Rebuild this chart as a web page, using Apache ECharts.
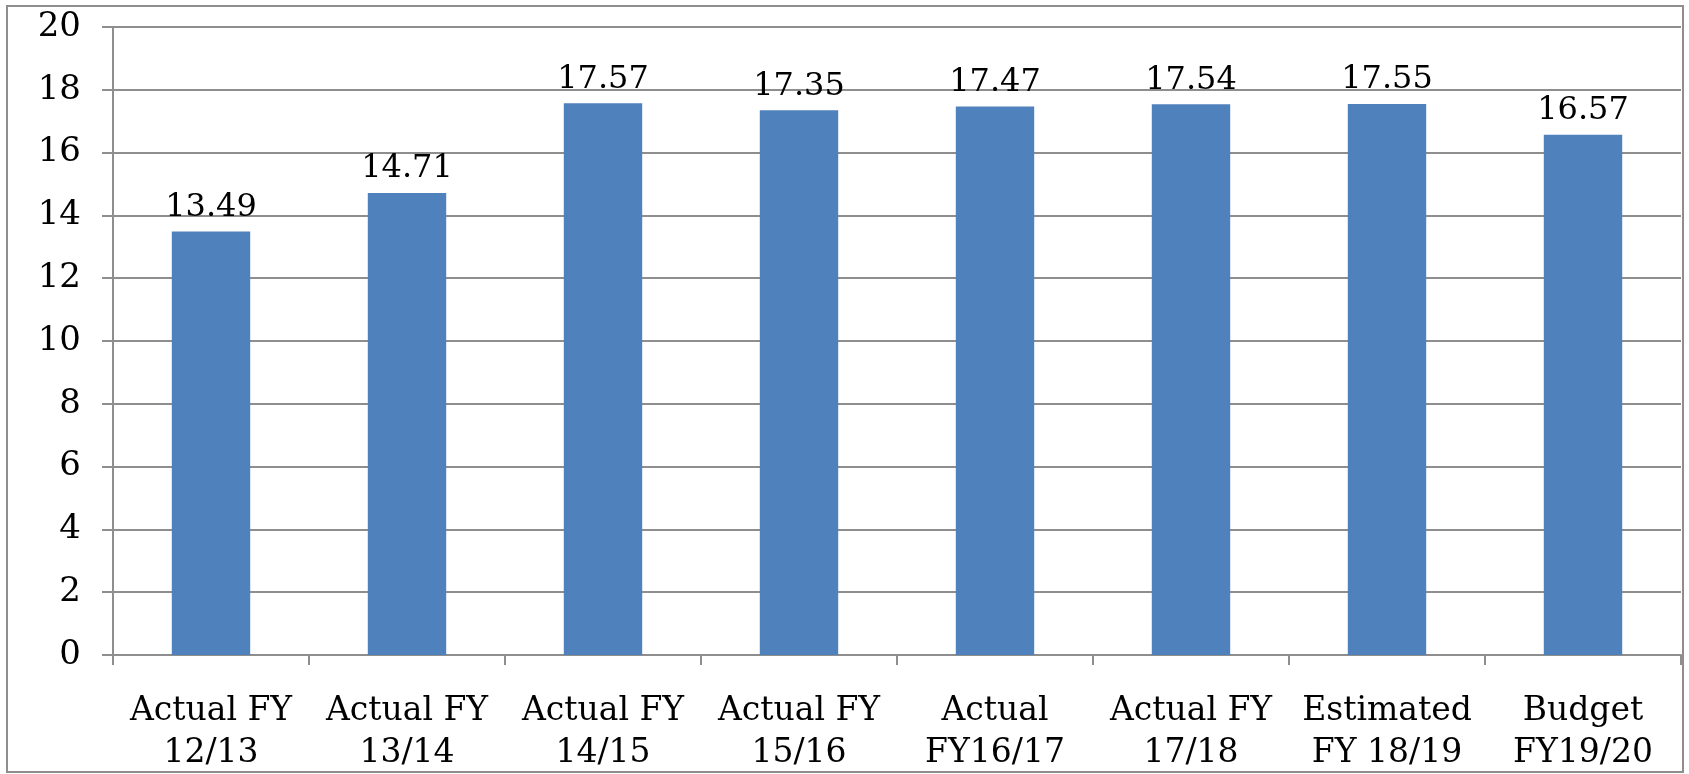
<!DOCTYPE html>
<html>
<head>
<meta charset="utf-8">
<script src="https://cdn.jsdelivr.net/npm/echarts@6/dist/echarts.min.js"></script>
<style>
  html, body { margin: 0; padding: 0; background: #fff; }
  #frame { position: absolute; left: 6px; top: 5px; width: 1674px; height: 764px; border: 2px solid #8e8e8e; }
  #main { position: absolute; left: 0; top: 0; width: 1689px; height: 774px; }
</style>
</head>
<body>
<div id="frame"></div>
<div id="main"></div>
<script>
// chart data
var categories = [
  "Actual FY\n12/13", "Actual FY\n13/14", "Actual FY\n14/15", "Actual FY\n15/16",
  "Actual\nFY16/17", "Actual FY\n17/18", "Estimated\nFY 18/19", "Budget\nFY19/20"
];
var values = [13.49, 14.71, 17.57, 17.35, 17.47, 17.54, 17.55, 16.57];
var yTicks = { min: 0, max: 20, interval: 2 };

var font = "'DejaVu Serif', serif";
var myChart = echarts.init(document.getElementById("main"));
var option = {
  animation: false,
  grid: { left: 113, right: 8, top: 27, bottom: 118 },
  xAxis: {
    type: "category",
    data: categories,
    axisLine: { lineStyle: { color: "#8e8e8e", width: 2 } },
    axisTick: { show: true, length: 10, lineStyle: { color: "#8e8e8e", width: 2 } },
    axisLabel: { color: "#000", fontFamily: font, fontSize: 33, lineHeight: 42, margin: 35, interval: 0 }
  },
  yAxis: {
    type: "value",
    min: yTicks.min,
    max: yTicks.max,
    interval: yTicks.interval,
    axisLine: { show: true, lineStyle: { color: "#8e8e8e", width: 2 } },
    axisTick: { show: true, length: 11, lineStyle: { color: "#8e8e8e", width: 2 } },
    splitLine: { lineStyle: { color: "#8e8e8e", width: 2 } },
    axisLabel: { color: "#000", fontFamily: font, fontSize: 34, margin: 32 }
  },
  series: [{
    type: "bar",
    data: values,
    barWidth: "40%",
    itemStyle: { color: "#4F81BD" },
    label: {
      show: true,
      position: "top",
      distance: 8,
      color: "#000",
      fontFamily: font,
      fontSize: 32,
      formatter: function (p) { return p.value.toFixed(2); }
    }
  }]
};
myChart.setOption(option);
</script>
</body>
</html>
